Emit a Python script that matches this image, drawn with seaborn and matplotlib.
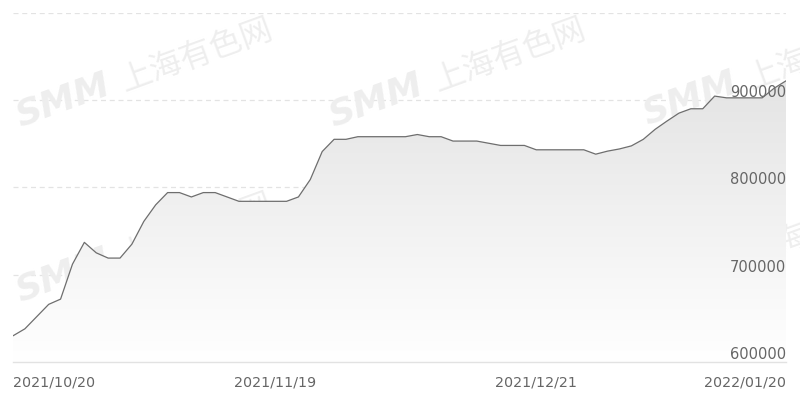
import numpy as np
import pandas as pd
import matplotlib
matplotlib.use("Agg")
import matplotlib.pyplot as plt
from matplotlib.colors import LinearSegmentedColormap
import seaborn as sns

# ---- data ----
trade_days = [d for d in pd.bdate_range("2021-10-20", "2022-01-20") if d != pd.Timestamp("2022-01-03")]
date_labels = [d.strftime("%Y/%m/%d") for d in trade_days]
prices = [630000, 638000, 652000, 666000, 672000, 712000, 737000, 725000, 719000, 719000,
          735000, 761000, 780000, 794000, 794000, 789000, 794000, 794000, 789000, 784000,
          784000, 784000, 784000, 784000, 789000, 809000, 841000, 855000, 855000, 858000,
          858000, 858000, 858000, 858000, 860500, 858000, 858000, 853000, 853000, 853000,
          850500, 848000, 848000, 848000, 843000, 843000, 843000, 843000, 843000, 838000,
          841500, 844000, 847500, 855000, 866500, 876000, 885000, 890000, 890000, 904500,
          902500, 902500, 902500, 902500, 913500, 922000]
shown_dates = ["2021/10/20", "2021/11/19", "2021/12/21", "2022/01/20"]
y_ticks = [600000, 700000, 800000, 900000]
grid_levels = [700000, 800000, 900000, 1000000]
wm_logo = "SMM"
wm_name = "上海有色网"

df = pd.DataFrame({"idx": np.arange(len(prices)), "date": date_labels, "price": prices})

sns.set_theme(style="white")
plt.rcParams["font.family"] = ["DejaVu Sans", "Noto Sans CJK SC"]

W, H = 800, 413
fig = plt.figure(figsize=(8, 4.13), dpi=100)
ax = fig.add_axes([13/W, 1-362/H, 773/W, 349.3/H])
ax.set_axisbelow(False)

# watermarks (under the fill, above the grid)
wm_color = "#eeeeee"
for (px, py) in [(20, 127), (333, 127), (647, 125), (20, 302), (333, 302), (647, 300)]:
    ax.text(px/W, 1 - py/H, wm_logo, transform=fig.transFigure, rotation=20,
            rotation_mode="anchor", ha="left", va="baseline", fontsize=26,
            fontweight="bold", fontstyle="italic", family="DejaVu Sans",
            color=wm_color, zorder=0.9, clip_on=False)
    ax.text((px + 104)/W, 1 - (py - 36)/H, wm_name, transform=fig.transFigure, rotation=20,
            rotation_mode="anchor", ha="left", va="baseline", fontsize=23,
            family="Noto Sans CJK SC", color=wm_color, zorder=0.9, clip_on=False)

# grid lines
for g in grid_levels:
    ax.axhline(g, color="#e3e3e3", lw=0.9, ls=(0, (4, 3)), zorder=0.8)

# gradient fill
poly = ax.fill_between(df["idx"], df["price"], 600000, facecolor="none", edgecolor="none")
cmap = LinearSegmentedColormap.from_list("g", ["#ffffff", "#e4e4e4"])
grad = np.linspace(0, 1, 256).reshape(-1, 1)
im = ax.imshow(grad, cmap=cmap, origin="lower", aspect="auto",
               extent=[0, len(prices) - 1, 600000, max(prices)], zorder=1, interpolation="bicubic")
im.set_clip_path(poly.get_paths()[0], transform=ax.transData)

sns.lineplot(data=df, x="idx", y="price", ax=ax, color="#6e6e6e", lw=0.9, zorder=3)

ax.set_xlim(0, len(prices) - 1)
ax.set_ylim(600000, 1000000)

# axes styling
for s in ["top", "left", "right"]:
    ax.spines[s].set_visible(False)
ax.spines["bottom"].set_color("#e2e2e2")
ax.spines["bottom"].set_linewidth(1.0)
ax.spines["bottom"].set_zorder(4)
ax.set_xlabel("")
ax.set_ylabel("")

xt = [date_labels.index(d) for d in shown_dates]
ax.set_xticks(xt)
ax.set_xticklabels(shown_dates)
ax.tick_params(axis="x", length=0, pad=10, labelsize=10.3, labelcolor="#666666")
xl = ax.get_xticklabels()
xl[0].set_horizontalalignment("left")
xl[-1].set_horizontalalignment("right")

ax.yaxis.tick_right()
ax.set_yticks(y_ticks)
ax.set_yticklabels([str(v) for v in y_ticks])
ax.tick_params(axis="y", length=0, pad=0, labelsize=10.5, labelcolor="#666666")
for t in ax.get_yticklabels():
    t.set_horizontalalignment("right")
    t.set_verticalalignment("bottom")

fig.savefig("out.png", dpi=100, facecolor="white")
